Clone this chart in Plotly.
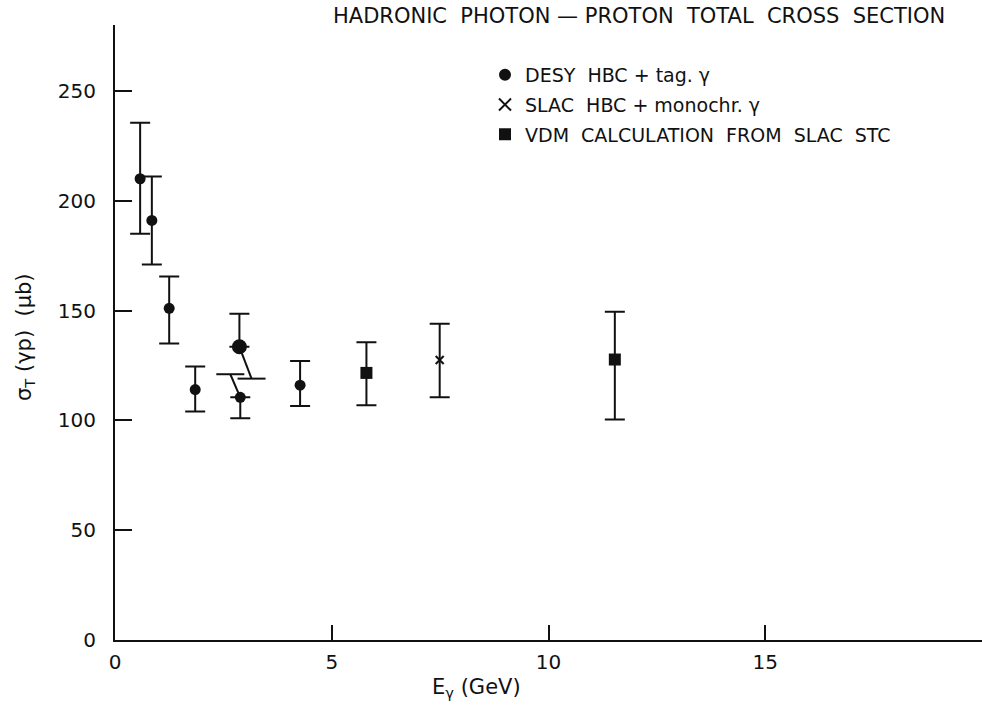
import plotly.graph_objects as go

# DESY HBC + tagged photons
desy_e = [0.58, 0.85, 1.25, 1.85, 2.89, 4.27]
desy_sigma = [210, 191, 151, 114, 110.5, 116]
desy_err_plus = [25.5, 20, 14.5, 10.5, 0, 11]
desy_err_minus = [25, 20, 16, 10, 9.5, 9.5]

# large point at ~2.9 GeV
big_e = [2.87]
big_sigma = [133.5]
big_err_plus = [15]
big_err_minus = [0]

# displaced (slanted) error-bar ends
slant_from_e = [2.87, 2.89]
slant_from_sigma = [133.5, 110.5]
slant_to_e = [3.15, 2.66]
slant_to_sigma = [119, 121]

# SLAC HBC + monochromatic photons
slac_e = [7.49]
slac_sigma = [127.5]
slac_err_plus = [16.5]
slac_err_minus = [17]

# VDM calculation from SLAC STC
vdm_e = [5.80, 11.53]
vdm_sigma = [121.6, 127.7]
vdm_err_plus = [14, 21.8]
vdm_err_minus = [14.7, 27.3]

x_ticks = [0, 5, 10, 15]
y_ticks = [0, 50, 100, 150, 200, 250]

FONT = "DejaVu Sans"
BLACK = "#111111"

fig = go.Figure()

fig.add_trace(go.Scatter(
    x=desy_e, y=desy_sigma, mode="markers", name="DESY  HBC + tag. γ",
    marker=dict(symbol="circle", size=11, color=BLACK),
    error_y=dict(type="data", array=desy_err_plus, arrayminus=desy_err_minus,
                 color=BLACK, thickness=2, width=10),
    legendgroup="a",
))
fig.add_trace(go.Scatter(
    x=big_e, y=big_sigma, mode="markers", showlegend=False,
    marker=dict(symbol="circle", size=15, color=BLACK),
    error_y=dict(type="data", array=big_err_plus, arrayminus=big_err_minus,
                 color=BLACK, thickness=2, width=10),
))
for i in range(len(slant_from_e)):
    fig.add_trace(go.Scatter(
        x=[slant_from_e[i], slant_to_e[i]], y=[slant_from_sigma[i], slant_to_sigma[i]],
        mode="lines", showlegend=False, line=dict(color=BLACK, width=2),
    ))
fig.add_trace(go.Scatter(
    x=slant_to_e, y=slant_to_sigma, mode="markers", showlegend=False,
    marker=dict(symbol="line-ew", size=20, line=dict(color=BLACK, width=2)),
))
fig.add_trace(go.Scatter(
    x=slac_e, y=slac_sigma, mode="markers", name="SLAC  HBC + monochr. γ",
    marker=dict(symbol="x-thin", size=8, line=dict(color=BLACK, width=2)),
    error_y=dict(type="data", array=slac_err_plus, arrayminus=slac_err_minus,
                 color=BLACK, thickness=2, width=10),
    legendgroup="b",
))
fig.add_trace(go.Scatter(
    x=vdm_e, y=vdm_sigma, mode="markers", name="VDM  CALCULATION  FROM  SLAC  STC",
    marker=dict(symbol="square", size=12, color=BLACK),
    error_y=dict(type="data", array=vdm_err_plus, arrayminus=vdm_err_minus,
                 color=BLACK, thickness=2, width=10),
    legendgroup="c",
))

PW, PH, L, T = 867, 615, 115, 25


def px(xp):
    return (xp - L) / PW


def py(yp):
    return (T + PH - yp) / PH


fig.update_layout(
    width=982, height=717,
    margin=dict(l=L, r=982 - L - PW, t=T, b=717 - T - PH),
    paper_bgcolor="white", plot_bgcolor="white",
    font=dict(family=FONT, color=BLACK, size=19),
    legend=dict(x=px(485), y=py(56), xanchor="left", yanchor="top",
                font=dict(size=19, family=FONT), tracegroupgap=2,
                bgcolor="rgba(0,0,0,0)", itemsizing="constant"),
    xaxis=dict(range=[0, 20], tickvals=x_ticks, ticktext=[str(v) for v in x_ticks],
               showgrid=False, zeroline=False, showline=True, linecolor=BLACK,
               linewidth=2, ticks="inside", ticklen=15, tickwidth=2, tickcolor=BLACK,
               tickfont=dict(size=20), ticklabelstandoff=3, automargin=False),
    yaxis=dict(range=[0, 280], tickvals=y_ticks, ticktext=[str(v) for v in y_ticks],
               showgrid=False, zeroline=False, showline=True, linecolor=BLACK,
               linewidth=2, ticks="inside", ticklen=17, tickwidth=2, tickcolor=BLACK,
               tickfont=dict(size=20), ticklabelstandoff=13, automargin=False),
    annotations=[
        dict(text="HADRONIC  PHOTON — PROTON  TOTAL  CROSS  SECTION",
             x=px(639), y=py(16), xref="paper", yref="paper", showarrow=False,
             font=dict(size=21), xanchor="center", yanchor="middle"),
        dict(text="E<sub>γ</sub> (GeV)", x=px(476), y=py(688), xref="paper",
             yref="paper", showarrow=False, font=dict(size=21),
             xanchor="center", yanchor="middle"),
        dict(text="σ<sub>T</sub> (γp)  (μb)", x=px(25), y=py(337), xref="paper",
             yref="paper", showarrow=False, textangle=-90, font=dict(size=21),
             xanchor="center", yanchor="middle"),
    ],
)

fig.write_html(
    "out.html",
    config={"displayModeBar": False},
    post_script="document.body.style.margin='0';document.body.style.overflow='hidden';",
)
